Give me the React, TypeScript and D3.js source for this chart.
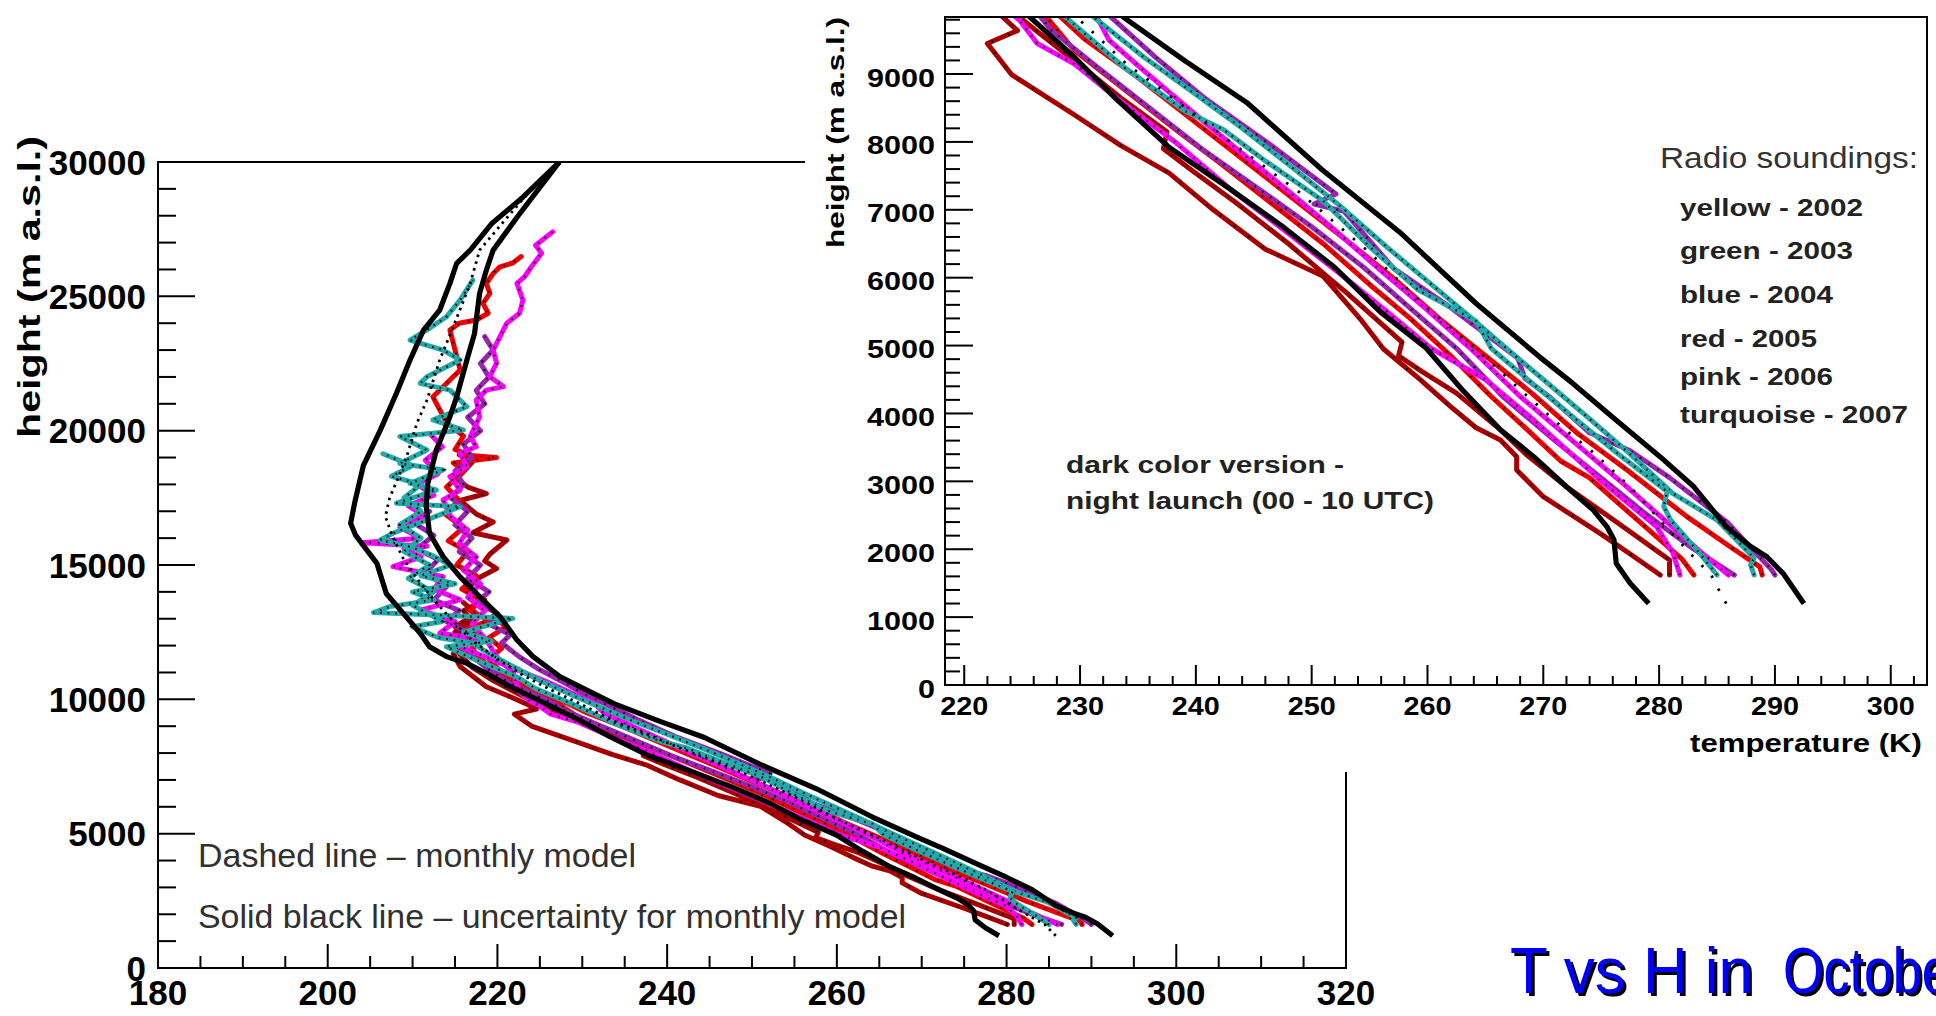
import React from "react";
import * as d3 from "d3";

type Pt = [number, number]; // [temperature K, height m a.s.l.]

// ---- model curves (black) ----
const leftBound: Pt[] = [[279.1,1200],[277.5,1500],[276.3,1790],[276.1,2140],[275.5,2330],[274.3,2580],[272.0,2920],[269.2,3360],[266.3,3760],[263.0,4350],[259.9,4960],[255.9,5500],[252.0,6150],[247.6,6740],[243.0,7300],[237.7,7920],[233.2,8620],[229.5,9250],[225.6,9850],[221.5,10470],[219.1,10900],[216.4,11340],[214.0,11590],[212.0,11960],[210.9,12460],[208.9,13200],[206.9,13940],[205.8,15060],[203.3,16100],[202.7,16550],[203.2,17350],[204.2,18700],[206.2,20020],[208.1,21390],[209.7,22630],[211.3,23750],[213.2,24490],[214.4,25480],[215.2,26230],[216.8,26720],[219.3,27700],[223.0,28690],[227.3,30000]];

const rightBound: Pt[] = [[292.5,1200],[290.7,1645],[289.3,1890],[287.9,2040],[285.8,2330],[283.0,2920],[280.1,3360],[276.3,3900],[272.5,4450],[269.7,4830],[264.2,5620],[257.6,6670],[250.9,7590],[244.4,8580],[239.0,9200],[233.8,9830],[231.3,10220],[227.4,10840],[224.2,11590],[222.3,12210],[220.3,13080],[217.9,13820],[215.6,14560],[213.6,15310],[212.0,16180],[211.6,17200],[211.8,18040],[212.8,19280],[214.4,20520],[215.2,21260],[216.4,22630],[217.3,23620],[217.9,25110],[218.7,25980],[219.5,26720],[222.4,27980],[227.3,30000]];

const monthlyModel: Pt[] = [[285.8,1200],[285.1,1420],[284.5,1620],[283.0,1880],[281.0,2250],[277.6,2900],[274.5,3400],[271.6,3800],[268.0,4350],[264.5,4900],[260.0,5550],[254.8,6400],[249.0,7250],[243.0,8000],[238.0,8650],[234.0,9150],[229.7,9840],[226.0,10400],[223.0,10900],[220.0,11500],[217.0,12200],[214.8,12900],[212.5,13700],[210.5,14500],[208.8,15300],[207.6,16100],[206.8,16800],[207.3,17500],[208.1,18100],[209.3,19030],[210.5,20270],[211.7,21140],[213.2,22630],[214.8,23870],[216.8,25480],[217.9,26720],[220.7,27770],[223.5,28800],[227.3,30000]];

// ---- radio soundings ----
const darkRed1: Pt[] = [[280.1,1620],[277.5,1930],[274.9,2234],[270.0,2774],[267.7,3167],[267.7,3363],[266.3,3610],[264.2,3790],[262.0,4100],[259.3,4510],[256.2,4950],[254.3,5370],[251.0,6020],[246.0,6420],[241.5,7000],[237.7,7540],[233.5,7950],[229.5,8400],[224.1,8990],[222.0,9450],[224.6,9640],[223.2,9860],[220.6,10220],[218.7,10470],[215.6,11220],[214.8,11700],[216.5,12100],[215.0,12500],[217.0,12900],[216.0,13300],[218.5,13700],[216.5,14100],[217.5,14470],[219.9,14870],[218.5,15150],[219.1,15400],[221.1,15930],[217.1,16200],[219.5,16600],[217.5,16900],[215.6,17400],[218.7,17660],[216.5,17900],[215.2,18200],[217.1,18850],[215.5,19100]];

const darkRed2: Pt[] = [[280.9,1620],[280.9,1840],[276.5,2380],[272.0,2921],[268.5,3400],[266.3,3757],[262.5,4300],[259.5,4620],[257.5,4850],[257.8,5050],[255.5,5400],[253.0,5780],[251.8,5950],[248.0,6500],[243.5,7100],[239.5,7600],[237.2,7900],[237.5,8150],[233.5,8650],[229.5,9200],[226.5,9600],[224.6,9860],[222.8,10150],[219.5,10700],[217.0,11200],[215.5,11700],[216.8,12200],[215.0,12700],[217.5,13200],[216.0,13600]];

const red1: Pt[] = [[283.0,1620],[282.0,1850],[278.0,2450],[274.0,3050],[271.5,3300],[269.0,3700],[265.5,4250],[262.0,4850],[258.5,5400],[255.0,5900],[251.0,6500],[246.5,7100],[242.0,7700],[238.5,8150],[234.0,8750],[229.5,9350],[227.0,9860],[224.0,10300],[221.5,10700],[219.5,11100],[218.0,11500],[217.0,11900],[218.5,12200],[216.5,12600],[219.0,12950],[216.8,13300],[218.0,13700],[215.8,14100],[217.5,14600],[215.2,15000],[216.5,15500],[214.2,15900],[216.0,16400],[213.8,16900],[215.5,17400],[214.0,17900],[216.0,18500],[214.8,18800],[219.9,19000],[216.8,19080],[215.0,19300],[216.0,19800],[214.0,20300],[212.4,21260],[215.6,22260],[214.4,23750],[215.5,24000],[217.5,24120],[218.9,24370],[218.3,24740],[219.1,25110],[218.7,25480],[219.5,25850],[220.3,26100],[221.8,26240],[222.8,26480]];

const red2: Pt[] = [[288.9,1620],[288.7,1740],[286.1,2040],[282.4,2480],[277.2,3170],[273.0,3700],[269.0,4300],[265.0,4850],[261.0,5400],[257.0,6000],[253.0,6550],[248.5,7150],[244.0,7750],[239.5,8350],[235.0,8950],[230.5,9500],[228.2,9860],[225.5,10200],[223.0,10600],[220.5,11000],[219.0,11500],[220.5,11900],[219.0,12300],[221.0,12700],[219.5,13100]];

const pink1: Pt[] = [[281.8,1620],[281.2,1940],[279.8,2330],[274.9,3020],[269.2,3900],[265.0,4500],[260.3,4960],[256.5,5500],[252.5,6050],[248.0,6650],[243.0,7300],[238.2,8000],[233.5,8600],[229.5,9150],[226.3,9450],[224.8,9790],[224.0,9900],[222.5,10300],[221.9,10970],[219.9,11590],[218.7,12210],[217.0,12800],[218.5,13300],[216.5,13800],[218.0,14300],[216.0,14800],[217.5,15300],[215.5,15800],[216.5,16300],[214.5,16800],[213.6,17420],[215.6,17790],[214.4,18290],[216.4,18660],[215.6,19160],[217.5,19400],[216.8,19780],[217.9,20520],[217.5,21140],[218.7,21510],[220.7,21640],[219.1,22010],[219.9,22510],[219.5,23000],[220.3,23500],[221.1,24000],[222.6,24370],[223.0,24860],[222.3,25480],[223.2,25730],[224.0,26100],[225.2,26600],[224.5,26900],[226.5,27400]];

const pink2: Pt[] = [[286.0,1620],[284.0,1900],[281.0,2350],[277.0,2950],[272.5,3600],[268.0,4250],[263.7,4960],[259.8,5550],[256.0,6100],[252.0,6700],[247.8,7300],[243.5,7900],[239.3,8500],[235.5,9050],[232.5,9500],[231.4,9860],[229.0,10200],[225.5,10700],[221.5,11200],[218.0,11650],[215.6,11960],[218.7,12210],[213.2,12460],[215.0,12900],[210.9,13320],[215.6,13700],[212.5,14100],[213.6,14560],[207.7,14940],[211.0,15300],[209.0,15600],[211.7,15700],[204.0,15830],[210.9,16000],[208.5,16400],[211.5,16800],[209.5,17200],[212.5,17600],[210.5,18000],[213.0,18400],[211.5,18900],[213.5,19400],[212.0,19900]];

const purple1: Pt[] = [[290.0,1620],[289.7,1700],[287.5,2100],[285.9,2395],[280.9,3055],[277.5,3450],[274.0,3715],[270.5,4250],[268.4,4520],[267.8,4814],[262.1,5547],[257.1,6133],[252.8,6977],[250.2,7086],[252.1,7233],[246.5,7950],[240.9,8626],[236.5,9250],[232.7,9835],[230.5,10150],[228.0,10600],[225.0,11100],[222.5,11600],[220.5,12100],[221.5,12400],[219.0,12800],[220.0,13200],[217.5,13600],[219.0,14000],[216.5,14500],[218.0,15000],[215.5,15500],[217.0,16000],[215.0,16500],[216.5,17000],[214.5,17500],[216.0,18000],[215.0,18500],[217.0,19000],[216.0,19500],[218.0,20000],[216.5,20500],[218.5,21000],[217.5,21500],[219.0,22000],[218.0,22500],[219.5,23000],[218.5,23500]];

const purple2: Pt[] = [[286.5,1620],[283.0,2000],[279.0,2500],[275.0,3050],[271.0,3600],[266.5,4250],[262.5,4960],[258.5,5550],[254.5,6150],[250.0,6750],[245.5,7300],[240.5,7900],[236.0,8500],[231.5,9100],[227.5,9650],[226.5,9860],[224.5,10150],[221.5,10600],[219.0,11100],[217.0,11600],[215.5,12100],[216.5,12500],[214.0,12900],[215.5,13300],[212.5,13700],[214.0,14200],[211.5,14700],[213.0,15200],[210.5,15600],[212.5,16100],[210.0,16600],[212.0,17000]];

const turquoise1: Pt[] = [[285.0,1620],[283.5,1940],[281.0,2430],[280.4,2630],[280.7,2850],[276.5,3400],[272.9,3900],[269.0,4450],[265.5,4960],[264.2,5360],[259.2,5820],[255.3,6410],[251.0,7130],[246.0,7720],[242.4,8180],[239.1,8450],[233.8,9100],[228.8,9830],[227.5,10000],[224.5,10400],[222.5,10800],[219.5,11200],[216.5,11600],[214.0,11960],[219.3,12160],[216.0,12500],[221.8,13010],[212.0,13150],[205.4,13230],[207.3,13450],[212.5,13700],[210.0,14000],[215.0,14300],[211.0,14600],[214.5,15000],[212.0,15400],[209.5,15700],[206.2,15930],[207.7,16180],[211.7,16680],[215.6,17170],[208.1,17300],[212.8,17790],[209.7,18040],[213.6,18540],[208.5,18780],[211.7,19280],[208.5,19780],[216.0,20020],[212.4,20400],[216.4,20890],[214.4,21510],[210.9,21760],[211.7,22010],[215.6,22630],[213.6,23000],[209.7,23370],[211.7,23750],[214.0,24240],[215.6,24860],[217.1,25600]];

const turquoise2: Pt[] = [[288.2,1620],[287.9,1770],[288.2,1870],[285.0,2430],[281.2,2820],[277.5,3400],[273.8,3950],[270.0,4500],[266.8,4960],[263.5,5450],[260.0,5950],[256.5,6450],[252.5,7050],[248.5,7600],[244.0,8200],[240.0,8700],[235.5,9250],[231.0,9860],[228.5,10200],[225.0,10700],[222.0,11200],[219.0,11700],[217.0,12100],[213.0,12300],[210.0,12700],[213.5,12900],[210.0,13500],[212.5,14000],[209.5,14500],[212.0,15000],[209.0,15500],[211.0,16000],[208.5,16500],[211.0,17000],[209.0,17500],[211.0,18000],[207.5,18300],[210.0,18700],[206.5,19140]];

// ---- axes / text ----
const xTicksLeft = [180, 200, 220, 240, 260, 280, 300, 320];
const yTicksLeft = [0, 5000, 10000, 15000, 20000, 25000, 30000];
const xTicksInset = [220, 230, 240, 250, 260, 270, 280, 290, 300];
const yTicksInset = [0, 1000, 2000, 3000, 4000, 5000, 6000, 7000, 8000, 9000];
const legendTitle = "Radio soundings:";
const legendLines = ["yellow - 2002", "green - 2003", "blue - 2004", "red - 2005", "pink - 2006", "turquoise - 2007"];
const legendWidths = [183, 173, 153, 137, 153, 228];
const noteLines = ["dark color version -", "night launch (00 - 10 UTC)"];
const modelNotes = ["Dashed line \u2013 monthly model", "Solid black line \u2013 uncertainty for monthly model"];
const titleParts = ["T vs H in", "October"];

const DARK_RED = "#a80000";
const RED = "#ee0000";
const PINK = "#ff00ff";
const PURPLE = "#9c22b2";
const TURQ = "#22a9a9";
const FONT = "'Liberation Sans', Arial, Helvetica, sans-serif";

export default function App() {
  const W = 1936, H = 1016;
  const xL = d3.scaleLinear().domain([180, 320]).range([158, 1346]);
  const yL = d3.scaleLinear().domain([0, 30000]).range([968, 162]);
  const xI = d3.scaleLinear().domain([218.34, 303.13]).range([945, 1927]);
  const yI = d3.scaleLinear().domain([0, 9840]).range([685, 17]);

  const lineL = d3.line<Pt>().x(d => xL(d[0])).y(d => yL(d[1]));
  const lineI = d3.line<Pt>().x(d => xI(d[0])).y(d => yI(d[1]));

  const soundings = [
    { data: darkRed1, color: DARK_RED, dots: "1.5 16" },
    { data: darkRed2, color: DARK_RED, dots: "1.5 16" },
    { data: red1, color: RED, dots: "1.5 10" },
    { data: red2, color: RED, dots: "1.5 12" },
    { data: purple2, color: PURPLE, dots: "1.5 8" },
    { data: purple1, color: PURPLE, dots: "1.5 9" },
    { data: pink1, color: PINK, dots: "1.5 7" },
    { data: pink2, color: PINK, dots: "1.5 7" },
    { data: turquoise2, color: TURQ, dots: "1.5 6" },
    { data: turquoise1, color: TURQ, dots: "1.5 6" },
  ];

  const curves = (line: d3.Line<Pt>, modelDash: string, key: string) => (
    <g key={key}>
      {soundings.map((s, i) => (
        <g key={i}>
          <path d={line(s.data) || ""} fill="none" stroke={s.color} strokeWidth={5} strokeLinejoin="round" strokeLinecap="round" />
          <path d={line(s.data) || ""} fill="none" stroke="#000" strokeWidth={2.2} strokeDasharray={s.dots} />
        </g>
      ))}
      <path d={line(monthlyModel) || ""} fill="none" stroke="#000" strokeWidth={2.8} strokeDasharray={modelDash} />
      <path d={line(leftBound) || ""} fill="none" stroke="#000" strokeWidth={5.2} strokeLinejoin="round" />
      <path d={line(rightBound) || ""} fill="none" stroke="#000" strokeWidth={5.2} strokeLinejoin="round" />
    </g>
  );

  const minorYL = d3.range(0, 30001, 1000).filter(v => v % 5000 !== 0);
  const minorXL = d3.range(180, 321, 5).filter(v => v % 20 !== 0);
  const minorYI = d3.range(0, 9841, 200).filter(v => v % 1000 !== 0);
  const minorXI = d3.range(220, 303.13, 2).filter(v => v % 10 !== 0);

  return (
    <svg width={W} height={H} style={{ position: "absolute", left: 0, top: 0, display: "block", background: "#fff" }} fontFamily={FONT}>
      <defs>
        <clipPath id="clipL"><rect x={158} y={162} width={1188} height={806} /></clipPath>
        <clipPath id="clipI"><rect x={945} y={17} width={982} height={668} /></clipPath>
      </defs>
      <rect x={0} y={0} width={W} height={H} fill="#fff" />

      {/* ===== main plot ===== */}
      <g clipPath="url(#clipL)">{curves(lineL, "2.5 4.5", "L")}</g>
      <rect x={xL(180)} y={yL(30000)} width={xL(320) - xL(180)} height={yL(0) - yL(30000)} fill="none" stroke="#000" strokeWidth={2} />
      {yTicksLeft.map(v => (
        <line key={"ylM" + v} x1={xL(180)} x2={xL(180) + 37} y1={yL(v)} y2={yL(v)} stroke="#000" strokeWidth={2} />
      ))}
      {minorYL.map(v => (
        <line key={"ylm" + v} x1={xL(180)} x2={xL(180) + 18} y1={yL(v)} y2={yL(v)} stroke="#000" strokeWidth={2} />
      ))}
      {xTicksLeft.map(v => (
        <line key={"xlM" + v} x1={xL(v)} x2={xL(v)} y1={yL(0)} y2={yL(0) - 24} stroke="#000" strokeWidth={2} />
      ))}
      {minorXL.map(v => (
        <line key={"xlm" + v} x1={xL(v)} x2={xL(v)} y1={yL(0)} y2={yL(0) - 12} stroke="#000" strokeWidth={2} />
      ))}
      {yTicksLeft.map(v => (
        <text key={"ylt" + v} x={146} y={yL(v) + 12.5} textAnchor="end" fontSize={35} fontWeight="bold" fill="#000">{v}</text>
      ))}
      {xTicksLeft.map(v => (
        <text key={"xlt" + v} x={xL(v)} y={1005} textAnchor="middle" fontSize={35} fontWeight="bold" fill="#000">{v}</text>
      ))}
      <text transform="translate(40,136) rotate(-90)" textAnchor="end" fontSize={31} fontWeight="bold" fill="#000" textLength={302} lengthAdjust="spacingAndGlyphs">height (m a.s.l.)</text>
      <text x={198} y={867} fontSize={33} fill="#303030" textLength={438} lengthAdjust="spacingAndGlyphs">{modelNotes[0]}</text>
      <text x={198} y={928} fontSize={33} fill="#303030" textLength={708} lengthAdjust="spacingAndGlyphs">{modelNotes[1]}</text>

      {/* ===== inset pad ===== */}
      <rect x={805} y={0} width={W - 805} height={772} fill="#fff" />
      <g clipPath="url(#clipI)">{curves(lineI, "2.5 12", "I")}</g>
      <rect x={xI.range()[0]} y={yI.range()[1]} width={xI.range()[1] - xI.range()[0]} height={yI.range()[0] - yI.range()[1]} fill="none" stroke="#000" strokeWidth={2} />
      {yTicksInset.map(v => (
        <line key={"yiM" + v} x1={945} x2={945 + 28} y1={yI(v)} y2={yI(v)} stroke="#000" strokeWidth={2} />
      ))}
      {minorYI.map(v => (
        <line key={"yim" + v} x1={945} x2={945 + 15} y1={yI(v)} y2={yI(v)} stroke="#000" strokeWidth={2} />
      ))}
      {xTicksInset.map(v => (
        <line key={"xiM" + v} x1={xI(v)} x2={xI(v)} y1={685} y2={685 - 20} stroke="#000" strokeWidth={2} />
      ))}
      {minorXI.map(v => (
        <line key={"xim" + v} x1={xI(v)} x2={xI(v)} y1={685} y2={685 - 9} stroke="#000" strokeWidth={2} />
      ))}
      {yTicksInset.map(v => (
        <text key={"yit" + v} x={935} y={yI(v) + 12.5} textAnchor="end" fontSize={25.5} fontWeight="bold" fill="#000" textLength={String(v).length * 17} lengthAdjust="spacingAndGlyphs">{v}</text>
      ))}
      {xTicksInset.map(v => (
        <text key={"xit" + v} x={xI(v)} y={715} textAnchor="middle" fontSize={25.5} fontWeight="bold" fill="#000" textLength={48} lengthAdjust="spacingAndGlyphs">{v}</text>
      ))}
      <text transform="translate(844,17) rotate(-90)" textAnchor="end" fontSize={24} fontWeight="bold" fill="#000" textLength={231} lengthAdjust="spacingAndGlyphs">height (m a.s.l.)</text>
      <text x={1922} y={752} textAnchor="end" fontSize={26} fontWeight="bold" fill="#000" textLength={232} lengthAdjust="spacingAndGlyphs">temperature (K)</text>

      <text x={1660} y={168} fontSize={30} fill="#333" textLength={258} lengthAdjust="spacingAndGlyphs">{legendTitle}</text>
      {legendLines.map((s, i) => (
        <text key={s} x={1680} y={[216, 259, 303, 347, 385, 423][i]} fontSize={23} fontWeight="bold" fill="#222" textLength={legendWidths[i]} lengthAdjust="spacingAndGlyphs">{s}</text>
      ))}
      <text x={1066} y={473} fontSize={24} fontWeight="bold" fill="#222" textLength={278} lengthAdjust="spacingAndGlyphs">{noteLines[0]}</text>
      <text x={1066} y={509} fontSize={24} fontWeight="bold" fill="#222" textLength={368} lengthAdjust="spacingAndGlyphs">{noteLines[1]}</text>

      {/* ===== slide title ===== */}
      <text x={1513} y={996} fontSize={65} fill="#000" textLength={243} lengthAdjust="spacingAndGlyphs">{titleParts[0]}</text>
      <text x={1510} y={993} fontSize={65} fill="#0000ff" textLength={243} lengthAdjust="spacingAndGlyphs">{titleParts[0]}</text>
      <g transform="translate(1786,996) scale(0.8,1)">
        <text x={0} y={0} fontSize={65} fill="#000">{titleParts[1]}</text>
      </g>
      <g transform="translate(1783,993) scale(0.8,1)">
        <text x={0} y={0} fontSize={65} fill="#0000ff">{titleParts[1]}</text>
      </g>
    </svg>
  );
}
